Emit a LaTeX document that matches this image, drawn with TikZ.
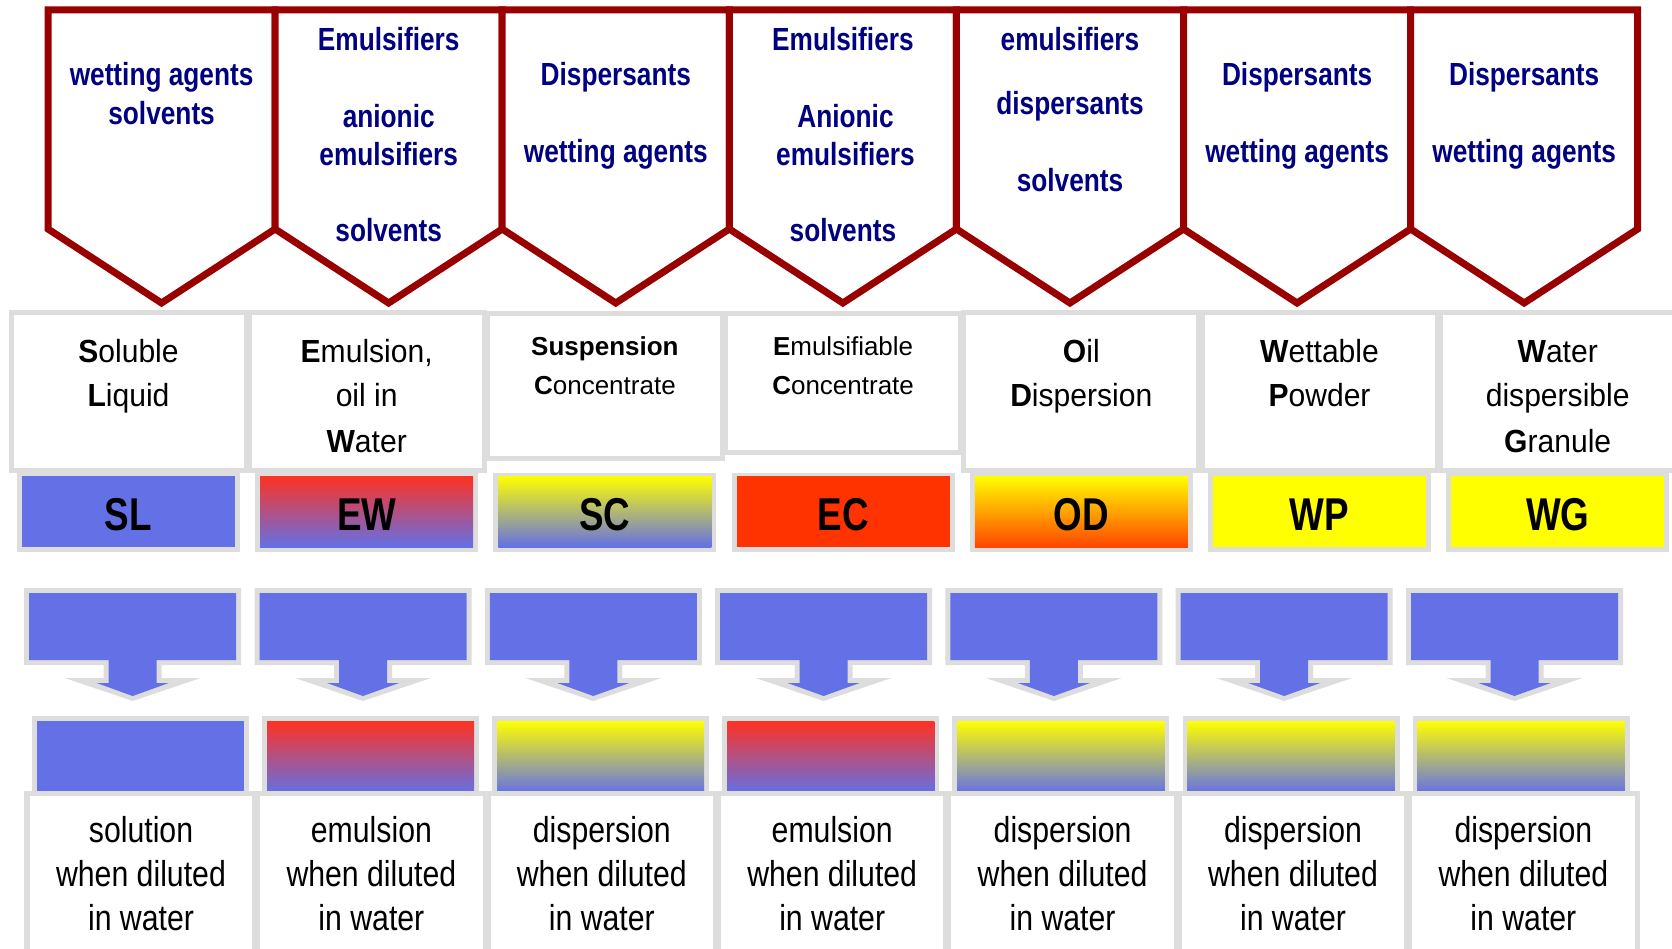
\documentclass[tikz,border=0pt]{standalone}
\usepackage{fontspec}
\setmainfont{Liberation Sans}
\newfontfamily\navyf[FakeStretch=0.82]{Liberation Sans}
\newfontfamily\namef[FakeStretch=0.94]{Liberation Sans}
\newfontfamily\smallf{Liberation Sans}
\newfontfamily\codef[FakeStretch=0.8]{Liberation Sans}
\newfontfamily\botf[FakeStretch=0.84]{Liberation Sans}
\definecolor{pentred}{RGB}{153,0,0}
\definecolor{navytxt}{RGB}{0,0,128}
\definecolor{bordergray}{RGB}{221,221,221}
\definecolor{fillblue}{RGB}{99,112,230}
\definecolor{ecred}{RGB}{255,51,0}
\definecolor{ewred}{RGB}{255,50,35}
\definecolor{yel}{RGB}{255,255,0}
\definecolor{odorange}{RGB}{255,70,0}
\tikzset{
  pent/.style={draw=pentred, line width=7pt, fill=white, line join=miter},
  graybox/.style={draw=bordergray, line width=5pt, fill=white},
  navytext/.style={anchor=base, inner sep=0pt, text=navytxt, font=\navyf\bfseries\fontsize{32}{38}\selectfont},
  nametext/.style={anchor=base, inner sep=0pt, font=\namef\fontsize{32}{38}\selectfont},
  snametext/.style={anchor=base, inner sep=0pt, font=\smallf\fontsize{26}{30}\selectfont},
  codetext/.style={anchor=base, inner sep=0pt, font=\codef\bfseries\fontsize{46}{50}\selectfont},
  bottext/.style={anchor=base, inner sep=0pt, font=\botf\fontsize{36}{44}\selectfont},
  shSL/.style={fill=fillblue},
  shEW/.style={top color=ewred, bottom color=fillblue},
  shSC/.style={top color=yel, bottom color=fillblue},
  shEC/.style={fill=ecred},
  shOD/.style={top color=yel, bottom color=odorange},
  shWP/.style={fill=yel},
}
\begin{document}
\begin{tikzpicture}[x=1pt, y=-1pt]
\useasboundingbox (0,0) rectangle (1672,949);
\clip (0,0) rectangle (1672,949);
\fill[white] (0,0) rectangle (1672,949);

% pentagons
\foreach \k in {0,...,6} {
  \pgfmathsetmacro\xl{48+227.1*\k}
  \pgfmathsetmacro\xr{\xl+227.1}
  \pgfmathsetmacro\xm{\xl+113.55}
  \draw[pent] (\xl,10) -- (\xr,10) -- (\xr,229) -- (\xm,303) -- (\xl,229) -- cycle;
}
% pentagon texts
\node[navytext] (p0a) at (161.6,86) {wetting agents};
\node[navytext] (p0b) at (161.6,124.5) {solvents};
\node[navytext] (p1a) at (388.7,51) {Emulsifiers};
\node[navytext] (p1b) at (388.7,128) {anionic};
\node[navytext] (p1c) at (388.7,166) {emulsifiers};
\node[navytext] (p1d) at (388.7,242) {solvents};
\node[navytext] (p2a) at (615.8,86) {Dispersants};
\node[navytext] (p2b) at (615.8,163) {wetting agents};
\node[navytext] (p3a) at (842.9,51) {Emulsifiers};
\node[navytext] (p3b) at (845.5,128) {Anionic};
\node[navytext] (p3c) at (845.5,166) {emulsifiers};
\node[navytext] (p3d) at (842.9,242) {solvents};
\node[navytext] (p4a) at (1070,51) {emulsifiers};
\node[navytext] (p4b) at (1070,115) {dispersants};
\node[navytext] (p4c) at (1070,191.5) {solvents};
\node[navytext] (p5a) at (1297.1,86) {Dispersants};
\node[navytext] (p5b) at (1297.1,163) {wetting agents};
\node[navytext] (p6a) at (1524.2,86) {Dispersants};
\node[navytext] (p6b) at (1524.2,163) {wetting agents};

% name boxes
\foreach \i/\bot/\top in {0/470/312.5,1/470/312.5,2/458.5/313.5,3/452/313.5,4/470/312.5,5/470/312.5,6/470/312.5} {
  \pgfmathsetmacro\cx{128.5+238.2*\i}
  \draw[graybox] ({\cx-117.5},\top) rectangle ({\cx+117.5},\bot);
}
\node[nametext] (n0a) at (128.5,362) {\textbf{S}oluble};
\node[nametext] (n0b) at (128.5,406) {\textbf{L}iquid};
\node[nametext] (n1a) at (366.7,362) {\textbf{E}mulsion,};
\node[nametext] (n1b) at (366.7,406) {oil in};
\node[nametext] (n1c) at (366.7,452) {\textbf{W}ater};
\node[snametext] (n2a) at (604.9,355) {\textbf{Suspension}};
\node[snametext] (n2b) at (604.9,394) {\textbf{C}oncentrate};
\node[snametext] (n3a) at (843.1,355) {\textbf{E}mulsifiable};
\node[snametext] (n3b) at (843.1,394) {\textbf{C}oncentrate};
\node[nametext] (n4a) at (1081.3,362) {\textbf{O}il};
\node[nametext] (n4b) at (1081.3,406) {\textbf{D}ispersion};
\node[nametext] (n5a) at (1319.5,362) {\textbf{W}ettable};
\node[nametext] (n5b) at (1319.5,406) {\textbf{P}owder};
\node[nametext] (n6a) at (1557.7,362) {\textbf{W}ater};
\node[nametext] (n6b) at (1557.7,406) {dispersible};
\node[nametext] (n6c) at (1557.7,452) {\textbf{G}ranule};

% code boxes
\foreach \i/\lab/\sty in {0/SL/shSL,1/EW/shEW,2/SC/shSC,3/EC/shEC,4/OD/shOD,5/WP/shWP,6/WG/shWP} {
  \pgfmathsetmacro\cx{128.5+238.2*\i}
  \fill[bordergray] ({\cx-111.5},472.5) rectangle ({\cx+111.5},551.5);
  \path[\sty] ({\cx-106.5},476) rectangle ({\cx+106.5},547);
  \node[codetext] (code\i) at (\cx,530) {\lab};
}

% arrows
\foreach \i in {0,...,6} {
  \pgfmathsetmacro\ax{132.7+230.3*\i}
  \fill[bordergray] ({\ax-108.5},588) -- ({\ax+108.5},588) -- ({\ax+108.5},665) -- ({\ax+29},665) -- ({\ax+29},678) -- ({\ax+68},678) -- (\ax,701) -- ({\ax-68},678) -- ({\ax-29},678) -- ({\ax-29},665) -- ({\ax-108.5},665) -- cycle;
  \fill[fillblue] ({\ax-103.5},593) -- ({\ax+103.5},593) -- ({\ax+103.5},660) -- ({\ax+24},660) -- ({\ax+24},683) -- ({\ax+36},683) -- (\ax,696) -- ({\ax-36},683) -- ({\ax-24},683) -- ({\ax-24},660) -- ({\ax-103.5},660) -- cycle;
}

% bars
\foreach \i/\sty in {0/shSL,1/shEW,2/shSC,3/shEW,4/shSC,5/shSC,6/shSC} {
  \pgfmathsetmacro\bx{140.5+230.1*\i}
  \fill[bordergray] ({\bx-108.5},716) rectangle ({\bx+108.5},796);
  \path[\sty] ({\bx-103.5},721) rectangle ({\bx+103.5},793);
}

% bottom boxes
\foreach \i/\word in {0/solution,1/emulsion,2/dispersion,3/emulsion,4/dispersion,5/dispersion,6/dispersion} {
  \pgfmathsetmacro\dx{141+230.4*\i}
  \draw[graybox, line width=5.5pt] ({\dx-114},793.5) rectangle ({\dx+114},990);
  \node[bottext] (b\i a) at (\dx,842) {\word};
  \node[bottext] (b\i b) at (\dx,886) {when diluted};
  \node[bottext] (b\i c) at (\dx,930) {in water};
}
\end{tikzpicture}
\end{document}
